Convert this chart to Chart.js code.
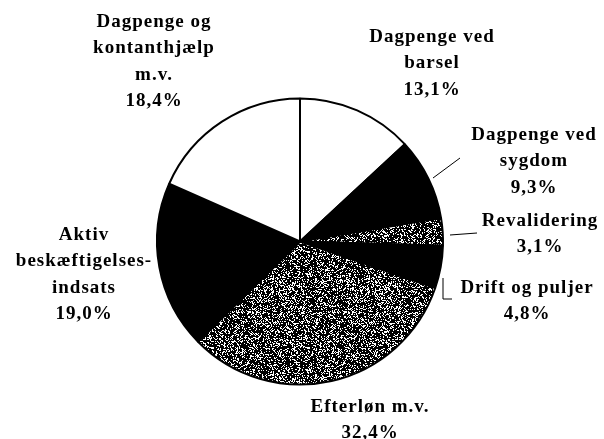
<!DOCTYPE html>
<html>
<head>
<meta charset="utf-8">
<script src="https://cdn.jsdelivr.net/npm/chart.js@4"></script>
<style>
  body { margin: 0; background: #fff; }
  canvas { display: block; }
</style>
</head>
<body>
<canvas id="chart" width="604" height="439"></canvas>
<script>
'use strict';

// data, clockwise from 12 o'clock
let categories = [
  ['Dagpenge ved', 'barsel'],
  ['Dagpenge ved', 'sygdom'],
  ['Revalidering'],
  ['Drift og puljer'],
  ['Efterløn m.v.'],
  ['Aktiv', 'beskæftigelses-', 'indsats'],
  ['Dagpenge og', 'kontanthjælp', 'm.v.']
];
let shares = [13.1, 9.3, 3.1, 4.8, 32.4, 19.0, 18.4];

// speckled grey fill like the scanned print
function speckle(density) {
  let c = document.createElement('canvas');
  c.width = 96;
  c.height = 96;
  let g = c.getContext('2d');
  g.fillStyle = '#000';
  g.fillRect(0, 0, 96, 96);
  g.fillStyle = '#fff';
  for (let y = 0; y < 96; y++) {
    for (let x = 0; x < 96; x++) {
      let h = (x * 374761393 + y * 668265263) | 0;
      h = Math.imul(h ^ (h >>> 13), 1274126177);
      h = (h ^ (h >>> 16)) >>> 0;
      if ((h % 1000) / 1000 < density) g.fillRect(x, y, 1, 1);
    }
  }
  return g.createPattern(c, 'repeat');
}

let ctx = document.getElementById('chart').getContext('2d');
let grey = speckle(0.3);
let fills = ['#fff', '#000', grey, '#000', grey, '#000', '#fff'];

// label placement (centre x, first line y) and leader lines
let labelPos = [
  [432, 37], [534, 135], [540, 221], [527, 288], [370, 407], [84, 235], [154, 22]
];
let leaders = [
  [[433, 178], [460, 158]],
  [[450, 235], [477, 233]],
  [[443, 278], [443, 299], [452, 299]]
];

let labelPlugin = {
  id: 'labels',
  afterDraw(chart) {
    let c = chart.ctx;
    c.save();
    c.strokeStyle = '#000';
    c.lineWidth = 1;
    leaders.forEach(pts => {
      c.beginPath();
      c.moveTo(pts[0][0], pts[0][1]);
      for (let i = 1; i < pts.length; i++) c.lineTo(pts[i][0], pts[i][1]);
      c.stroke();
    });
    c.fillStyle = '#000';
    c.font = 'bold 19px "Liberation Serif", "Times New Roman", serif';
    c.letterSpacing = '1px';
    c.textAlign = 'center';
    c.textBaseline = 'middle';
    categories.forEach((lines, i) => {
      let all = lines.concat([shares[i].toFixed(1).replace('.', ',') + '%']);
      all.forEach((t, j) => {
        c.fillText(t, labelPos[i][0], labelPos[i][1] + j * 26.5);
      });
    });
    c.restore();
  }
};

new Chart(ctx, {
  type: 'pie',
  data: {
    labels: categories.map(l => l.join(' ')),
    datasets: [{
      data: shares,
      backgroundColor: fills,
      borderColor: '#000',
      borderWidth: 2
    }]
  },
  options: {
    responsive: false,
    animation: false,
    layout: {
      padding: { left: 156, right: 160, top: 97, bottom: 53 }
    },
    plugins: {
      legend: { display: false },
      tooltip: { enabled: false }
    }
  },
  plugins: [labelPlugin]
});
</script>
</body>
</html>
